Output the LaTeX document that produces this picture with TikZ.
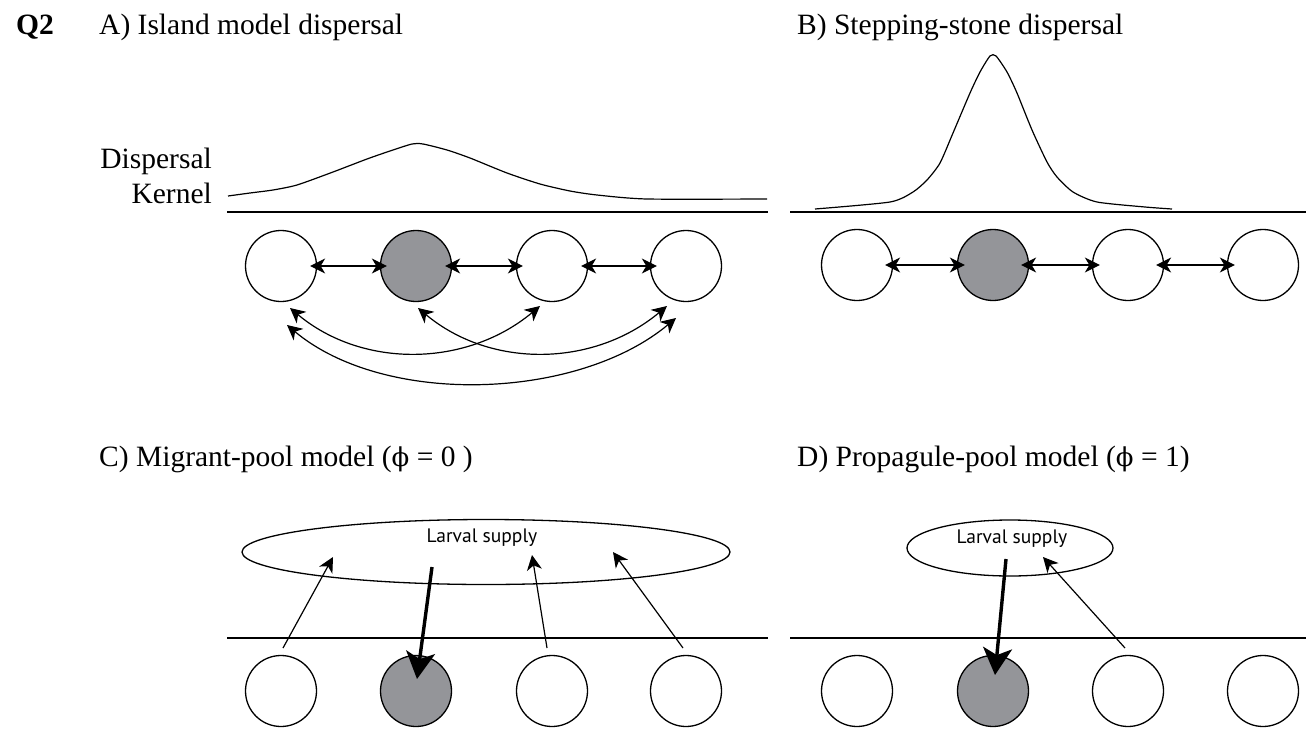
\documentclass[tikz,border=0pt]{standalone}
\usepackage{fontspec}
\setmainfont{Liberation Serif}
\newfontfamily\poolfont{PT Sans}
\newfontfamily\phifont{DejaVu Serif}
\usetikzlibrary{arrows.meta,shapes.geometric,calc}
\definecolor{patchgray}{RGB}{148,149,153}
\newcommand{\phisym}{{\phifont\fontsize{26}{30}\selectfont ϕ}}
\tikzset{
  patch/.style={circle, draw, line width=1.3pt, minimum size=71pt, inner sep=0pt},
  focal/.style={patch, fill=patchgray},
  link/.style={line width=1.2pt, {Stealth[length=15pt,width=15pt,inset=4.5pt]}-{Stealth[length=15pt,width=15pt,inset=4.5pt]}},
  flow/.style={line width=1.2pt, -{Stealth[length=15pt,width=15pt,inset=4.5pt]}},
  bigflow/.style={line width=3.4pt, -{Stealth[length=27pt,width=29pt,inset=7pt]}},
  pool/.style={ellipse, draw, line width=1.3pt, inner sep=0pt},
  ground/.style={line width=1.8pt},
  kernel/.style={line width=1.2pt},
  title/.style={anchor=base west, inner sep=0pt, font=\fontsize{29.5}{35}\selectfont},
  side/.style={anchor=base east, inner sep=0pt, font=\fontsize{29.5}{35}\selectfont},
  larval/.style={anchor=base, inner sep=0pt, font=\poolfont\fontsize{19.5}{22}\selectfont}
}
\begin{document}
\begin{tikzpicture}[x=1pt,y=-1pt]
\useasboundingbox (0,0) rectangle (1306,728);

\node[title,font=\bfseries\fontsize{29.5}{35}\selectfont] (q) at (16,34) {Q2};
\node[title] (tA) at (99,34) {A) Island model dispersal};
\node[title] (tB) at (797,34) {B) Stepping-stone dispersal};
\node[title] (tC) at (99,466) {C) Migrant-pool model (\phisym{} = 0 )};
\node[title] (tD) at (797,466) {D) Propagule-pool model (\phisym{} = 1)};
\node[side] (disp) at (212,168) {Dispersal};
\node[side] (kern) at (212,203) {Kernel};

\draw[ground] (227,212)--(768,212) (790,212)--(1306,212) (227,638)--(768,638) (790,638)--(1306,638);

\draw[kernel] plot[smooth,tension=0.4] coordinates {(228,196) (250,193) (273,190) (297,185) (333,172) (367,159) (390,151) (412,144) (423,144) (447,150) (470,158) (507,173) (540,184) (570,191) (597,195) (647,199) (767,199)};
\draw[kernel] plot[smooth,tension=0.4] coordinates {(815,209) (890,202) (913,192) (927,180) (940,163) (953,133) (970,93) (980,72) (990,56) (996,56) (1007,72) (1017,93) (1032,130) (1047,162) (1057,177) (1073,192) (1097,202) (1145,207) (1172,209)};

\foreach \n/\x/\s in {a1/281/patch,a2/416/focal,a3/552/patch,a4/686/patch} \node[\s] (\n) at (\x,266) {};
\foreach \n/\x/\s in {b1/857/patch,b2/993/focal,b3/1128/patch,b4/1263/patch} \node[\s] (\n) at (\x,265) {};
\foreach \n/\x/\s in {c1/281/patch,c2/416/focal,c3/552/patch,c4/686/patch} \node[\s] (\n) at (\x,691) {};
\foreach \n/\x/\s in {d1/857/patch,d2/993/focal,d3/1128/patch,d4/1263/patch} \node[\s] (\n) at (\x,691) {};

\draw[link,shorten <=-7pt,shorten >=-7pt] (a1)--(a2);
\draw[link,shorten <=-7pt,shorten >=-7pt] (a2)--(a3);
\draw[link,shorten <=-7pt,shorten >=-7pt] (a3)--(a4);
\draw[link] ($(a1)+(9,42)$) .. controls +(73,61) and +(-73,61) .. ($(a3)+(-12,40)$);
\draw[link] ($(a2)+(2,42)$) .. controls +(73,61) and +(-73,61) .. ($(a4)+(-19,40)$);
\draw[link] ($(a1)+(6,59)$) .. controls +(98,82) and +(-98,82) .. ($(a4)+(-10,52)$);

\draw[link,shorten <=-8pt,shorten >=-8pt] (b1)--(b2);
\draw[link,shorten <=-8pt,shorten >=-8pt] (b2)--(b3);
\draw[link,shorten <=-8pt,shorten >=-8pt] (b3)--(b4);

\node[pool,minimum width=488pt,minimum height=65pt] (poolC) at (486,552) {};
\node[pool,minimum width=206pt,minimum height=56pt] (poolD) at (1010,548) {};
\node[larval] (lsC) at ($(poolC)+(-4,-10)$) {Larval supply};
\node[larval] (lsD) at ($(poolD)+(2,-5)$) {Larval supply};

\draw[flow] ($(c1)+(2,-43)$) -- ($(poolC)+(-153,5)$);
\draw[bigflow] ($(poolC)+(-54,15)$) -- ($(c2)+(1,-12)$);
\draw[flow] ($(c3)+(-5,-43)$) -- ($(poolC)+(46,3)$);
\draw[flow] ($(c4)+(-3,-43)$) -- ($(poolC)+(127,0)$);
\draw[bigflow] ($(poolD)+(-4,11)$) -- ($(d2)+(2,-16)$);
\draw[flow] ($(d3)+(-3,-43)$) -- ($(poolD)+(33,9)$);
\end{tikzpicture}
\end{document}
